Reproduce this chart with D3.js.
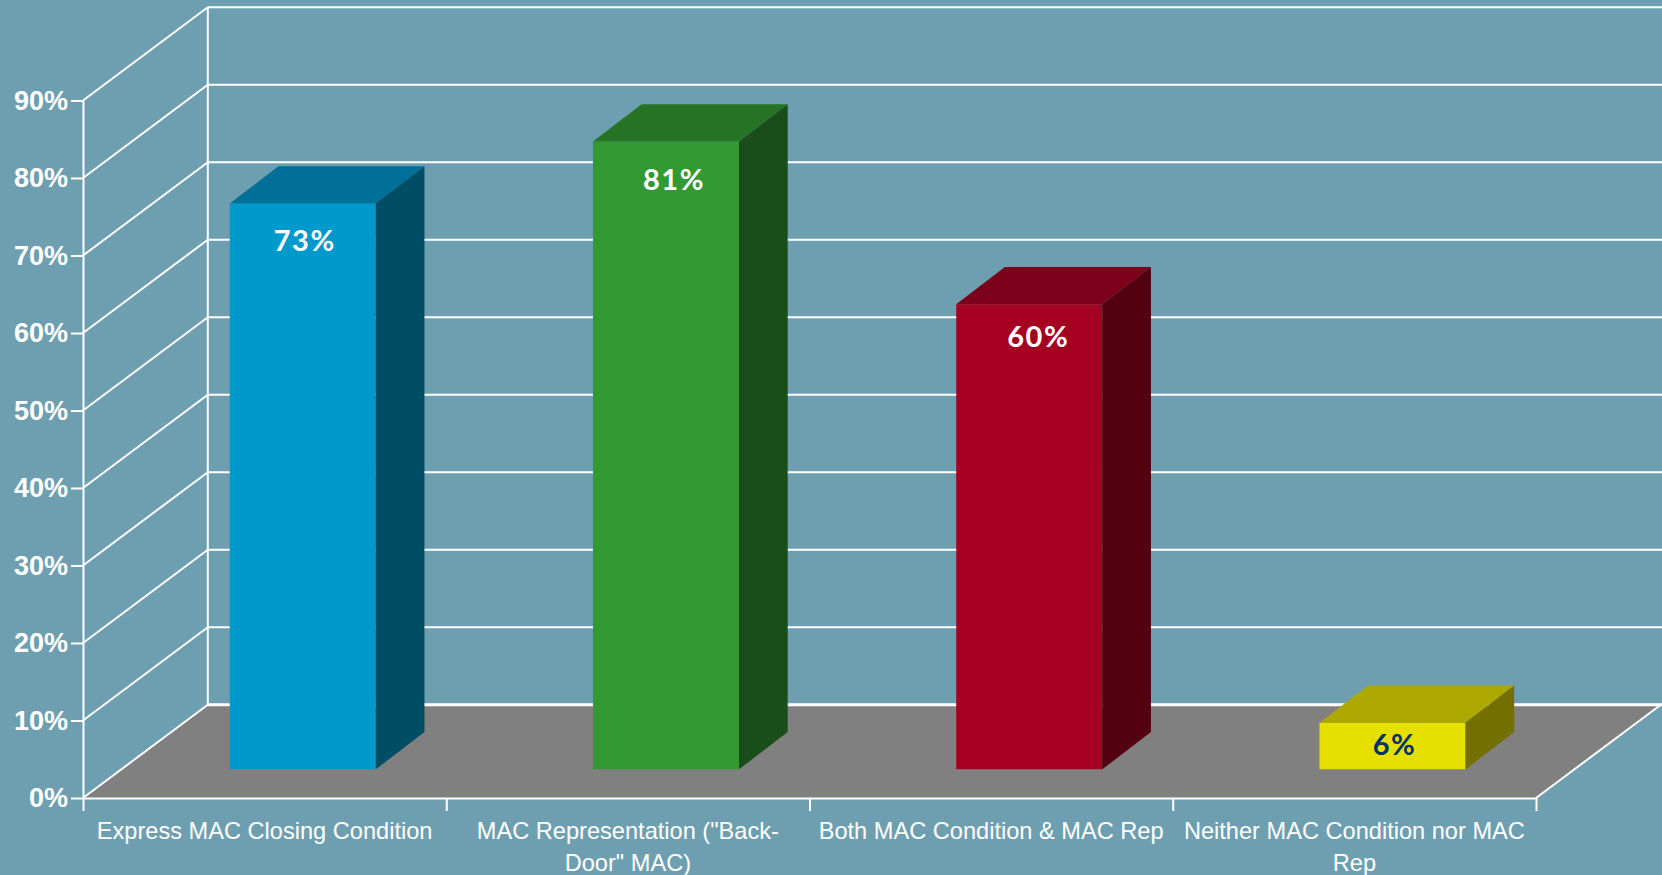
<!DOCTYPE html>
<html>
<head>
<meta charset="utf-8">
<script src="https://cdnjs.cloudflare.com/ajax/libs/d3/7.9.0/d3.min.js"></script>
<style>
html,body{margin:0;padding:0;background:#6e9fb0;overflow:hidden}
svg{display:block}
.ytick text{font:bold 27px "Liberation Sans",Arial,sans-serif;fill:#fff}
.xlabel{font:23.6px "Liberation Sans",Arial,sans-serif;fill:#fff}
.vlabel{font:bold 29px Lato,sans-serif;letter-spacing:1.5px;text-anchor:middle}
</style>
</head>
<body>
<svg id="chart" width="1662" height="875"></svg>
<script>
const categories = ['Express MAC Closing Condition', 'MAC Representation ("Back-Door" MAC)', 'Both MAC Condition & MAC Rep', 'Neither MAC Condition nor MAC Rep'];
const categoryLines = [['Express MAC Closing Condition'], ['MAC Representation ("Back-', 'Door" MAC)'], ['Both MAC Condition & MAC Rep'], ['Neither MAC Condition nor MAC', 'Rep']];
const values = [73, 81, 60, 6];
const frontColors = ['#0099cc', '#339933', '#a50021', '#e6e000'];
const topColors = ['#006f99', '#267326', '#7c0019', '#ada800'];
const sideColors = ['#004d66', '#194d19', '#530011', '#737000'];
const labelColors = ['#ffffff', '#ffffff', '#ffffff', '#003366'];
const yTicks = d3.range(0, 100, 10);

const svg = d3.select('#chart');
const x = d3.scaleBand().domain(categories).range([82.8, 1535.8]).paddingInner(0.598).paddingOuter(0.299);
const xEdge = d3.scaleLinear().domain([0, categories.length]).range([83, 1536]);
const y = d3.scaleLinear().domain([0, 90]).range([798, 100.5]);
// Oblique projection: depth 0 is the front edge of the floor, depth 1 the back wall.
const depthX = d => d * 124.8;
const depthY = d => -d * 93.3;
const barDepthFront = 0.307;
const barRun = 48.7, barRise = 37.3;
// Value labels sit a little off the bar centre, each placed by hand in the chart.
const labelShiftX = [2, 8, 9, 2];
const labelShiftY = [6, 7, 2, -1];

const line = (x1, y1, x2, y2, w = 2) => svg.append('line').attr('x1', x1).attr('y1', y1).attr('x2', x2).attr('y2', y2)
  .attr('stroke', '#fff').attr('stroke-width', w);
const poly = (pts, fill) => svg.append('polygon').attr('points', pts.map(p => p.join(',')).join(' ')).attr('fill', fill);

// Floor
poly([[83, y(0)], [83 + depthX(1), y(0) + depthY(1)], [1536 + depthX(1), y(0) + depthY(1)], [1536, y(0)]], '#808080');

// Back wall gridlines and their diagonals on the side wall
yTicks.forEach(t => {
  line(83 + depthX(1), y(t) + depthY(1), 1662, y(t) + depthY(1), t === 0 ? 3 : 2);
  line(83, y(t), 83 + depthX(1), y(t) + depthY(1), 2);
});
line(83 + depthX(1), y(90) + depthY(1), 83 + depthX(1), y(0) + depthY(1), 2);
line(1536, y(0), 1536 + depthX(1), y(0) + depthY(1), 2);

// Left axis, bottom axis
const yAxis = d3.axisLeft(y).tickValues(yTicks).tickFormat(d => d + '%').tickSize(12).tickSizeOuter(0).tickPadding(3);
const yG = svg.append('g').attr('class', 'ytick').attr('transform', 'translate(83,0)').call(yAxis);
yG.selectAll('path,line').attr('stroke', '#fff').attr('stroke-width', 2);
yG.selectAll('text').attr('dy', '0.33em');

const xAxis = d3.axisBottom(xEdge).tickValues(d3.range(0, categories.length + 1)).tickFormat('').tickSize(13).tickSizeOuter(0);
const xG = svg.append('g').attr('transform', `translate(0,${y(0)})`).call(xAxis);
xG.selectAll('path,line').attr('stroke', '#fff').attr('stroke-width', 2);

// Category labels, centred under each band
categoryLines.forEach((lines, i) => {
  lines.forEach((txt, j) => {
    svg.append('text').attr('class', 'xlabel').attr('text-anchor', 'middle')
      .attr('x', xEdge(i + 0.5)).attr('y', 839 + j * 32).text(txt);
  });
});

// Bars
categories.forEach((c, i) => {
  const dxF = depthX(barDepthFront), dyF = depthY(barDepthFront);
  const l = x(c) + dxF, r = l + x.bandwidth();
  const b = y(0) + dyF, t = y(values[i]) + dyF;
  poly([[l, t], [r, t], [r, b], [l, b]], frontColors[i]);
  poly([[l, t], [l + barRun, t - barRise], [r + barRun, t - barRise], [r, t]], topColors[i]);
  poly([[r, t], [r + barRun, t - barRise], [r + barRun, b - barRise], [r, b]], sideColors[i]);
  const h = b - t;
  svg.append('text').attr('class', 'vlabel').attr('fill', labelColors[i])
    .attr('x', (l + r) / 2 + labelShiftX[i])
    .attr('y', (h > 100 ? t + 41 : (t + b) / 2 + 10) + labelShiftY[i])
    .text(values[i] + '%');
});
</script>
</body>
</html>
